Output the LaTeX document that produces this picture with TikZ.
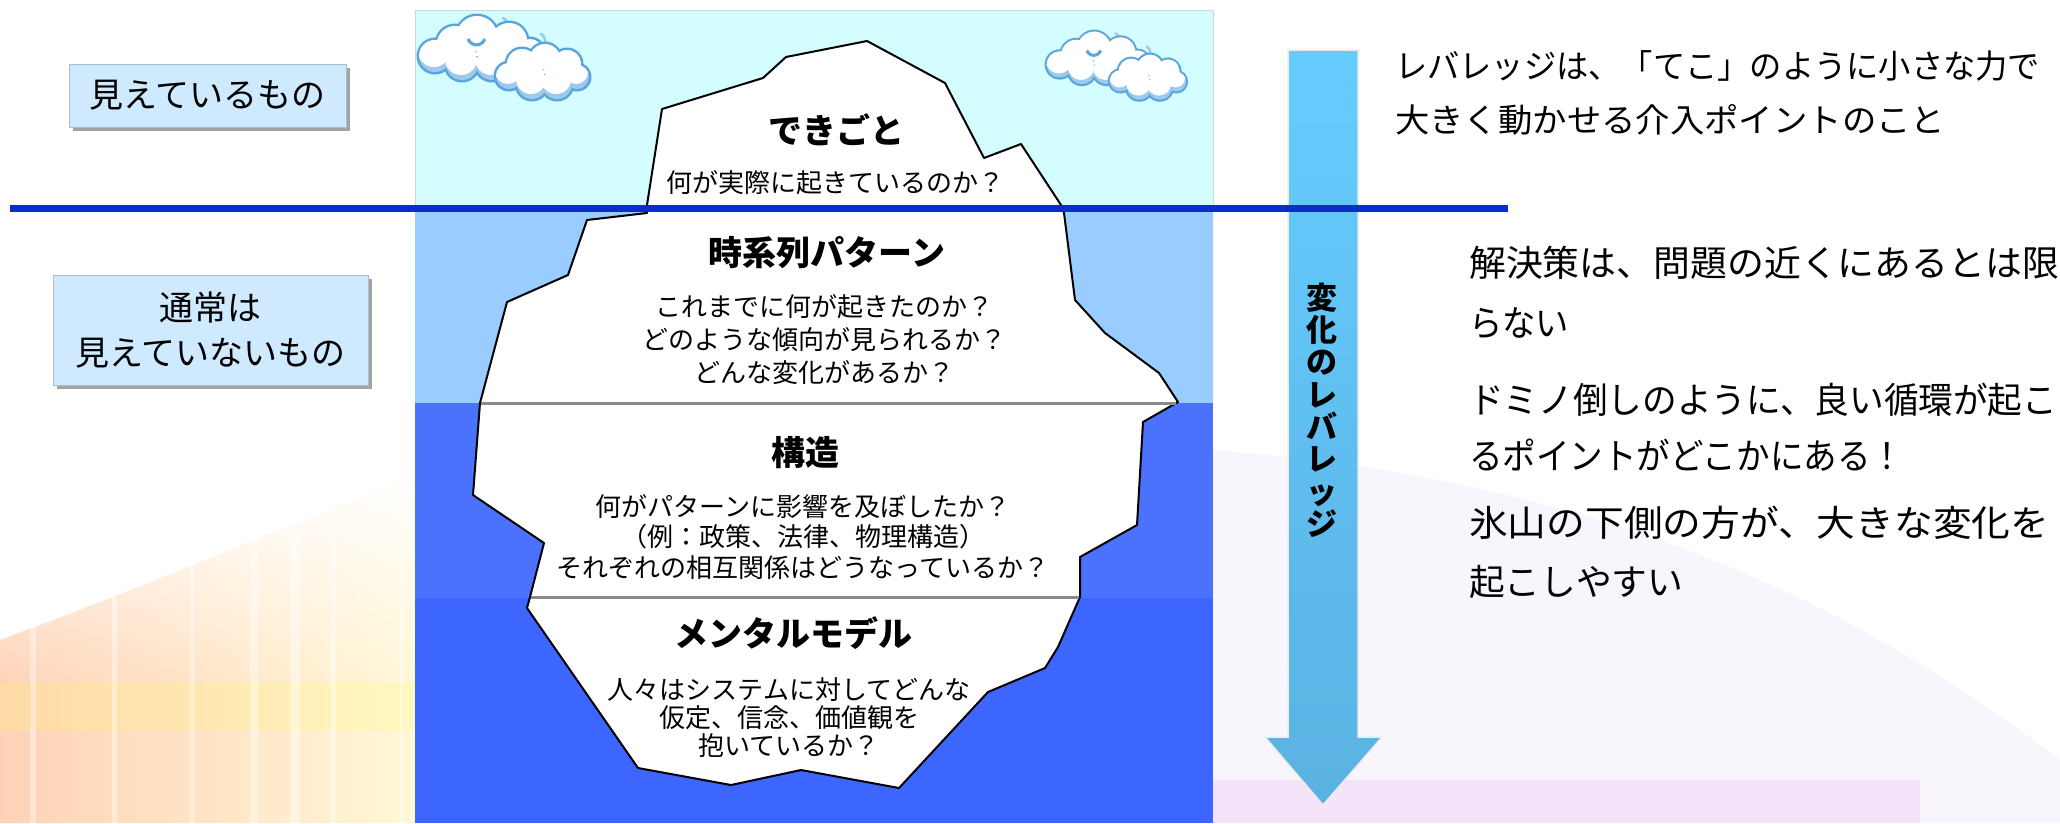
\documentclass[tikz,border=0pt]{standalone}
\usepackage{fontspec}
\usepackage{graphicx}
\usetikzlibrary{shadows,fadings}
\newfontfamily\jp{Noto Sans CJK JP}

\definecolor{sky}{HTML}{D3FDFF}
\definecolor{shallow}{HTML}{99CCFF}
\definecolor{deepA}{HTML}{4A72FC}
\definecolor{deepB}{HTML}{3C66FF}
\definecolor{waterline}{HTML}{0A2DCB}
\definecolor{boxfill}{HTML}{CFEAFF}
\definecolor{boxline}{HTML}{A9BFCC}
\definecolor{arrowtop}{HTML}{66CCFF}
\definecolor{arrowbot}{HTML}{5AB2E2}
\definecolor{cloudline}{HTML}{5BA5DC}
\definecolor{cloudshade}{HTML}{9CCAEE}
\definecolor{salmon}{HTML}{FFD2B6}
\definecolor{paleyellow}{HTML}{FFF8D6}
\definecolor{lavender}{HTML}{F8F5FD}
\definecolor{pinkband}{HTML}{F5E0FA}
\definecolor{sepgray}{HTML}{8A8A8A}

% stretch a line of text to a given width, keeping its height
\newcommand\fitw[2]{\resizebox{#1}{\height}{#2}}

\tikzfading[name=topfade, top color=transparent!0, bottom color=transparent!100]

% one cloud: outline, then a white body with a blue rim at the bottom
\newcommand\puff[1]{%
  \foreach \cx/\cy/\r in {#1} \fill[cloudline] (\cx,\cy) circle[radius=\r+2.5];
  \begin{scope}
    \clip \foreach \cx/\cy/\r in {#1} {(\cx,\cy) circle[radius=\r]};
    \fill[cloudshade] (-20,-20) rectangle (200,110);
    \foreach \cx/\cy/\r in {#1} \fill[white] (\cx-1,\cy-5) circle[radius=\r];
  \end{scope}}

\tikzset{
  lbox/.style={draw=boxline, line width=1pt, fill=boxfill, inner sep=0pt, align=center,
    font=\jp\fontsize{34}{45}\selectfont,
    drop shadow={shadow xshift=4pt, shadow yshift=-4pt, fill=black!45, opacity=0.8}},
  title/.style={font=\jp\bfseries\fontsize{34}{38}\selectfont, inner sep=0pt},
  body/.style={font=\jp\fontsize{26}{#1}\selectfont, align=center, inner sep=0pt},
  body/.default=32,
  note/.style={font=\jp\fontsize{36}{40}\selectfont, anchor=west, inner sep=0pt},
  smallnote/.style={font=\jp\fontsize{33}{40}\selectfont, anchor=west, inner sep=0pt},
  cloudpair/.pic={
    \draw[cloudshade, line width=2.5pt, line cap=round] (86,4) .. controls (93,8) and (92,14) .. (88,18);
    \draw[cloudshade, line width=2.5pt, line cap=round] (124,20) .. controls (130,24) and (129,30) .. (125,34);
    \puff{18/42/16, 38/30/18, 60/22/20, 92/27/18, 113/38/13, 45/50/16, 75/50/16, 100/47/13}
    \draw[cloudline, line width=3pt] (51,25) arc[start angle=160, end angle=20, radius=9];
    \puff{92/62/13, 105/50/15, 128/45/15, 150/50/14, 160/63/12, 140/70/15, 115/70/15}
  }
}

\begin{document}
\begin{tikzpicture}[x=1pt, y=-1pt]
\useasboundingbox (0,0) rectangle (2060,823);
\fill[white] (0,0) rectangle (2060,823);

% soft decorative corners
\begin{scope}
  \clip (0,640) .. controls (150,585) and (300,520) .. (415,478) -- (415,823) -- (0,823) -- cycle;
  \shade[left color=salmon, right color=paleyellow] (0,470) rectangle (415,823);
  \fill[yellow!60!white, opacity=0.2] (0,682) rectangle (415,730);
  \foreach \sx/\sw in {30/6, 112/5, 190/4, 250/8, 290/10, 330/6, 400/3}
    \fill[white, opacity=0.4] (\sx,470) rectangle ++(\sw,353);
  \fill[white, path fading=topfade] (0,470) rectangle (415,690);
\end{scope}
\fill[lavender] (1213,450) .. controls (1600,480) and (1850,600) .. (2060,760) -- (2060,823) -- (1213,823) -- cycle;
\fill[pinkband, opacity=0.85] (1213,780) rectangle (1920,823);

% sea panel
\fill[sky] (415,10) rectangle (1213,209);
\fill[shallow] (415,209) rectangle (1213,403);
\fill[deepA] (415,403) rectangle (1213,598);
\fill[deepB] (415,598) rectangle (1213,823);
\draw[boxline!60, line width=1pt] (415,209) -- (415,10) -- (1213,10) -- (1213,209);

% clouds
\pic at (417,14) {cloudpair};
\pic[scale=0.82] at (1045,30) {cloudpair};

% iceberg
\draw[line width=2pt, fill=white, line join=round]
  (647,205) -- (662,109) -- (763,78) -- (786,57) -- (867,41) -- (945,83) -- (984,158)
  -- (1021,144) -- (1061,205) -- (1064,213) -- (1075,300) -- (1105,333) -- (1159,373)
  -- (1178,402) -- (1143,422) -- (1137,525) -- (1080,557) -- (1080,597) -- (1058,647)
  -- (1045,668) -- (988,692) -- (899,788) -- (801,770) -- (731,785) -- (638,768)
  -- (527,608) -- (530,597) -- (544,543) -- (473,495) -- (480,403) -- (507,302)
  -- (568,275) -- (587,220) -- (647,213) -- cycle;
\draw[sepgray, line width=3pt] (481,403) -- (1176,403);
\draw[sepgray, line width=3pt] (531,597) -- (1079,597);

% iceberg layers
\node[title] (evt) at (836,130) {できごと};
\node[body] (evtq) at (835,183) {何が実際に起きているのか？};
\node[title] (pat) at (827,253) {時系列パターン};
\node[body=33] (patq) at (824,340) {これまでに何が起きたのか？\\どのような傾向が見られるか？\\どんな変化があるか？};
\node[title] (str) at (805,453) {構造};
\node[body=30.5] (strq) at (803,537) {何がパターンに影響を及ぼしたか？\\（例：政策、法律、物理構造）\\それぞれの相互関係はどうなっているか？};
\node[title] (mm) at (793,633) {メンタルモデル};
\node[body=28] (mmq) at (789,718) {人々はシステムに対してどんな\\仮定、信念、価値観を\\抱いているか？};

% left labels
\node[lbox, minimum width=277pt, minimum height=63pt] (seen) at (207.5,95.5) {見えているもの};
\node[lbox, minimum width=315pt, minimum height=110pt] (unseen) at (210.5,330) {通常は\\見えていないもの};

% leverage arrow
\shade[top color=arrowtop, bottom color=arrowbot, draw=white!85!gray, line width=1.5pt, line join=miter]
  (1288,50) -- (1358,50) -- (1358,737) -- (1382,737) -- (1323,805) -- (1265,737) -- (1288,737) -- cycle;
\node[font=\jp\bfseries\fontsize{31}{32.3}\selectfont, align=center, inner sep=0pt] (lev) at (1322,410)
  {変\\化\\の\\レ\\バ\\レ\\ッ\\ジ};

% waterline
\draw[waterline, line width=7pt] (10,208.5) -- (1508,208.5);

% notes
\node[smallnote] (n1) at (1395,66) {\fitw{645pt}{レバレッジは、「てこ」のように小さな力で}};
\node[smallnote] (n2) at (1395,120) {\fitw{550pt}{大きく動かせる介入ポイントのこと}};
\node[note] (n3) at (1469,263) {\fitw{590pt}{解決策は、問題の近くにあるとは限}};
\node[note] (n4) at (1469,323) {\fitw{100pt}{らない}};
\node[note] (n5) at (1469,400) {\fitw{588pt}{ドミノ倒しのように、良い循環が起こ}};
\node[note] (n6) at (1469,455) {\fitw{435pt}{るポイントがどこかにある！}};
\node[note] (n7) at (1469,523) {\fitw{580pt}{氷山の下側の方が、大きな変化を}};
\node[note] (n8) at (1469,582) {\fitw{214pt}{起こしやすい}};
\end{tikzpicture}
\end{document}
